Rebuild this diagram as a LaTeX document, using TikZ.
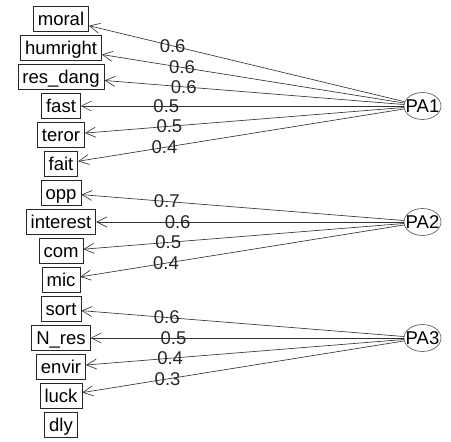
\documentclass[tikz,border=0pt]{standalone}
\usepackage{fontspec}
\setmainfont{Liberation Sans}
\usetikzlibrary{arrows.meta}
\usetikzlibrary{shapes.geometric}
\tikzset{var/.style = {draw = black!85, line width = 0.7pt, fill = white,
                       inner xsep = 4.5pt, inner ysep = 2pt,
                       text height = 17pt, text depth = 4pt,
                       font = \fontsize{18.5}{20}\selectfont}}
\tikzset{fac/.style = {ellipse, draw = black!60, line width = 0.7pt, inner sep = 0,
                       minimum width = 37pt, minimum height = 27pt,
                       font = \fontsize{18.5}{20}\selectfont}}
\tikzset{load/.style = {-{Straight Barb[length = 10pt, width = 10pt]}, line width = 0.65pt,
                        draw = black!80}}
\tikzset{lbl/.style = {pos = 0.735, inner sep = 0, text = black!85,
                       font = \fontsize{18.5}{20}\selectfont}}

\begin{document}
\begin{tikzpicture}[x = 1pt, y = -1pt]
    \useasboundingbox (0, 0) rectangle (451, 442);
    % observed variables
    \node [var] (moral) at (61, 19) {moral};
    \node [var] (humright) at (61, 48) {humright};
    \node [var] (resdang) at (61, 77) {res\_dang};
    \node [var] (fast) at (61, 106) {fast};
    \node [var] (teror) at (61, 135) {teror};
    \node [var] (fait) at (61, 164) {fait};
    \node [var] (opp) at (61, 193) {opp};
    \node [var] (interest) at (61, 222) {interest};
    \node [var] (com) at (61, 251) {com};
    \node [var] (mic) at (61, 280) {mic};
    \node [var] (sort) at (61, 309) {sort};
    \node [var] (Nres) at (61, 338) {N\_res};
    \node [var] (envir) at (61, 367) {envir};
    \node [var] (luck) at (61, 396) {luck};
    \node [var] (dly) at (61, 425) {dly};
    % factors
    \node [fac] (PA1) at (422.5, 106) {\makebox[0pt]{PA1}};
    \node [fac] (PA2) at (422.5, 222) {\makebox[0pt]{PA2}};
    \node [fac] (PA3) at (422.5, 338) {\makebox[0pt]{PA3}};
    % loadings
    \draw [load] (PA1) -- (moral) node [lbl] {0.6};
    \draw [load] (PA1) -- (humright) node [lbl] {0.6};
    \draw [load] (PA1) -- (resdang) node [lbl] {0.6};
    \draw [load] (PA1) -- (fast) node [lbl] {0.5};
    \draw [load] (PA1) -- (teror) node [lbl] {0.5};
    \draw [load] (PA1) -- (fait) node [lbl] {0.4};
    \draw [load] (PA2) -- (opp) node [lbl] {0.7};
    \draw [load] (PA2) -- (interest) node [lbl] {0.6};
    \draw [load] (PA2) -- (com) node [lbl] {0.5};
    \draw [load] (PA2) -- (mic) node [lbl] {0.4};
    \draw [load] (PA3) -- (sort) node [lbl] {0.6};
    \draw [load] (PA3) -- (Nres) node [lbl] {0.5};
    \draw [load] (PA3) -- (envir) node [lbl] {0.4};
    \draw [load] (PA3) -- (luck) node [lbl] {0.3};
\end{tikzpicture}
\end{document}
